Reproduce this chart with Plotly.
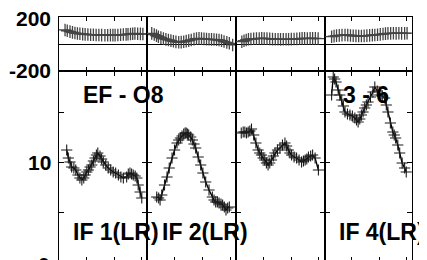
import plotly.graph_objects as go

# ---------------- data ----------------
if_labels = ["IF 1(LR)", "IF 2(LR)", "", "IF 4(LR)"]
baseline_left = "EF - O8"
baseline_right = "3 - 6"

# amplitude (lower panels)
amp_t1 = [0.28, 0.34, 0.40, 0.46, 0.54, 0.61, 0.69, 0.76, 0.83, 0.90, 0.95, 1.01, 1.07, 1.13, 1.19, 1.25, 1.31, 1.36, 1.41, 1.49, 1.55, 1.61, 1.70, 1.79, 1.88, 1.97, 2.06, 2.16, 2.25, 2.34, 2.46, 2.52, 2.58, 2.64, 2.70, 2.77, 2.83, 2.88, 2.95, 3.01]
amp_v1 = [11.2, 10.4, 10.0, 9.5, 9.4, 9.2, 8.7, 8.4, 8.2, 8.4, 8.7, 9.0, 9.2, 9.5, 9.7, 10.1, 10.4, 10.7, 10.9, 10.6, 10.3, 10.0, 9.7, 9.4, 9.2, 9.0, 8.9, 8.7, 8.5, 8.4, 8.5, 8.8, 8.9, 8.8, 8.7, 8.6, 8.4, 7.7, 7.0, 6.4]
amp_t2 = [0.35, 0.42, 0.47, 0.53, 0.63, 0.72, 0.80, 0.90, 0.99, 1.08, 1.14, 1.20, 1.26, 1.32, 1.37, 1.41, 1.46, 1.50, 1.57, 1.63, 1.69, 1.75, 1.84, 1.93, 2.01, 2.11, 2.23, 2.35, 2.41, 2.47, 2.53, 2.59, 2.66, 2.72, 2.78, 2.84, 2.90, 2.96]
amp_v2 = [6.5, 6.4, 6.2, 6.7, 7.7, 8.5, 9.4, 10.4, 11.2, 11.9, 12.2, 12.4, 12.6, 12.8, 12.9, 12.9, 12.8, 12.7, 12.5, 12.2, 11.8, 11.4, 10.5, 9.7, 8.9, 8.0, 7.2, 6.5, 6.2, 6.0, 6.0, 5.9, 5.8, 5.7, 5.5, 5.2, 5.4, 5.5]
amp_t3 = [0.19, 0.26, 0.32, 0.38, 0.44, 0.50, 0.56, 0.64, 0.72, 0.80, 0.86, 0.92, 0.98, 1.04, 1.10, 1.16, 1.22, 1.28, 1.35, 1.41, 1.50, 1.59, 1.68, 1.77, 1.83, 1.89, 1.95, 2.01, 2.10, 2.19, 2.28, 2.37, 2.44, 2.50, 2.56, 2.62, 2.70, 2.77, 2.86, 2.98]
amp_v3 = [12.9, 13.0, 13.0, 12.9, 13.0, 13.1, 13.3, 12.7, 11.9, 11.2, 10.9, 10.7, 10.4, 10.2, 9.9, 9.7, 9.9, 10.2, 10.6, 10.9, 11.2, 11.4, 11.7, 11.9, 11.6, 11.2, 10.9, 10.7, 10.5, 10.4, 10.2, 10.0, 10.1, 10.2, 10.3, 10.5, 10.6, 10.7, 10.4, 9.2]
amp_t4 = [0.26, 0.32, 0.37, 0.42, 0.50, 0.56, 0.63, 0.69, 0.75, 0.84, 0.93, 1.02, 1.11, 1.17, 1.23, 1.29, 1.35, 1.41, 1.47, 1.53, 1.59, 1.68, 1.77, 1.84, 1.93, 2.02, 2.11, 2.20, 2.26, 2.32, 2.41, 2.50, 2.55, 2.60, 2.68, 2.75, 2.84, 2.93, 2.99]
amp_v4 = [16.7, 18.5, 18.3, 18.0, 17.2, 16.7, 16.2, 15.6, 15.0, 14.8, 14.7, 14.6, 14.4, 14.2, 14.0, 14.3, 14.7, 15.0, 15.4, 15.7, 16.0, 16.5, 17.0, 17.5, 17.1, 16.7, 16.6, 16.4, 15.7, 15.0, 13.9, 13.0, 12.7, 12.4, 11.7, 10.9, 9.9, 9.4, 9.0]

# phase (upper panels)
ph_t1 = [0.22, 0.30, 0.40, 0.49, 0.58, 0.67, 0.76, 0.86, 0.95, 1.05, 1.15, 1.25, 1.35, 1.45, 1.55, 1.67, 1.77, 1.87, 1.96, 2.04, 2.14, 2.24, 2.34, 2.44, 2.51, 2.60, 2.68, 2.76, 2.86, 2.96, 3.05]
ph_v1 = [104, 98, 92, 86, 81, 78, 76, 73, 71, 70, 69, 68, 67, 67, 66, 65, 65, 66, 66, 66, 67, 68, 70, 71, 72, 74, 76, 78, 76, 75, 74]
ph_t2 = [0.17, 0.26, 0.34, 0.41, 0.50, 0.59, 0.68, 0.77, 0.86, 0.95, 1.04, 1.14, 1.23, 1.32, 1.41, 1.50, 1.59, 1.69, 1.78, 1.87, 1.96, 2.05, 2.14, 2.23, 2.32, 2.41, 2.50, 2.59, 2.68, 2.77, 2.87, 2.96, 3.08]
ph_v2 = [79, 70, 62, 54, 47, 40, 34, 30, 25, 20, 16, 13, 14, 17, 21, 25, 30, 36, 40, 42, 40, 38, 36, 35, 34, 33, 32, 30, 25, 18, 12, 5, -7]
ph_t3 = [0.21, 0.29, 0.37, 0.45, 0.54, 0.64, 0.74, 0.84, 0.93, 1.02, 1.12, 1.22, 1.32, 1.42, 1.52, 1.61, 1.71, 1.81, 1.90, 2.00, 2.10, 2.20, 2.30, 2.39, 2.48, 2.58, 2.68, 2.77, 2.87, 2.97]
ph_v3 = [17, 24, 30, 35, 37, 39, 40, 41, 42, 41, 40, 38, 36, 35, 35, 34, 35, 35, 35, 36, 37, 38, 40, 42, 42, 41, 42, 42, 42, 40]
ph_t4 = [0.26, 0.35, 0.44, 0.54, 0.64, 0.75, 0.85, 0.95, 1.05, 1.15, 1.25, 1.35, 1.45, 1.55, 1.65, 1.75, 1.84, 1.94, 2.04, 2.14, 2.23, 2.32, 2.42, 2.52, 2.62, 2.72, 2.82, 2.93, 3.02]
ph_v4 = [54, 58, 62, 64, 66, 67, 66, 63, 61, 60, 59, 59, 60, 62, 64, 66, 67, 69, 71, 74, 77, 79, 79, 80, 79, 80, 79, 79, 80]

amp_ticks = [5, 10, 15]
amp_range = [0, 19.1]
ph_range = [-200, 200]
time_range = [0, 3.2]
time_ticks = [1, 2, 3]

# ---------------- layout geometry ----------------
# Page body has an 8 px margin, so screen px = figure px + 8.
OFF = 8
W, H = 427, 260
L_s, R_s, T_s, B_s = 59, 412, 17, 262          # plot box in screen pixels
col_px = [59, 147, 236, 324.5, 412]
split_px = 71

def fx(px):
    return (px - L_s) / (R_s - L_s)

def fy(py):
    return (B_s - py) / (B_s - T_s)

FONT = "Liberation Sans, Arial, Helvetica, sans-serif"

fig = go.Figure()

amps = [(amp_t1, amp_v1), (amp_t2, amp_v2), (amp_t3, amp_v3), (amp_t4, amp_v4)]
phs = [(ph_t1, ph_v1), (ph_t2, ph_v2), (ph_t3, ph_v3), (ph_t4, ph_v4)]

layout = dict(
    width=W, height=H,
    margin=dict(l=L_s - OFF, r=W - (R_s - OFF), t=T_s - OFF, b=H - (B_s - OFF), pad=0),
    paper_bgcolor="white", plot_bgcolor="white",
    showlegend=False,
)

axis_common = dict(showgrid=False, zeroline=False, showline=True, linecolor="black",
                   linewidth=1, ticks="inside", tickcolor="black", tickwidth=1,
                   showticklabels=False, mirror="ticks")

for i in range(4):
    dom = [fx(col_px[i]), fx(col_px[i + 1])]
    xa, ya = i + 1, i + 1
    layout[f"xaxis{xa}"] = dict(axis_common, domain=dom, range=time_range, tickvals=time_ticks,
                                ticklen=5, anchor=f"y{ya}")
    layout[f"yaxis{ya}"] = dict(axis_common, domain=[0, fy(split_px)], range=amp_range,
                                tickvals=amp_ticks, ticklen=5, anchor=f"x{xa}")
    xb, yb = i + 5, i + 5
    layout[f"xaxis{xb}"] = dict(axis_common, domain=dom, range=time_range, tickvals=time_ticks,
                                ticklen=4, anchor=f"y{yb}")
    layout[f"yaxis{yb}"] = dict(axis_common, domain=[fy(split_px), 1], range=ph_range,
                                tickvals=[], zeroline=True, zerolinecolor="black",
                                zerolinewidth=1, anchor=f"x{xb}")

    t, v = amps[i]
    fig.add_trace(go.Scatter(x=t, y=v, mode="lines+markers", xaxis=f"x{xa}", yaxis=f"y{ya}",
                             line=dict(color="black", width=1.4),
                             marker=dict(symbol="cross-thin", size=8, color="#111",
                                         line=dict(width=1.1, color="#1a1a1a"))))
    t, v = phs[i]
    fig.add_trace(go.Scatter(x=t, y=v, mode="lines+markers", xaxis=f"x{xb}", yaxis=f"y{yb}",
                             line=dict(color="black", width=1.3),
                             marker=dict(symbol="cross-thin", size=9, color="#444",
                                         line=dict(width=1.3, color="#444"))))

fig.update_layout(**layout)

def label(text, px, py, size, anchor="center"):
    fig.add_annotation(text=text, x=fx(px), y=fy(py), xref="paper", yref="paper",
                       xanchor=anchor, yanchor="middle", showarrow=False,
                       font=dict(family=FONT, size=size, color="black", weight="bold"))

# y tick labels
label("200", 53, 18, 21, "right")
label("-200", 53, 71, 21, "right")
label("10", 53, 162, 21, "right")
label("0", 52, 264, 21, "right")

# panel labels
label(baseline_left, 123.5, 95, 23)
label(baseline_right, 366, 95.5, 23)
label(if_labels[0], 116, 232, 23)
label(if_labels[1], 205, 232, 23)
label(if_labels[3], 381.5, 232, 23)

fig.write_html("out.html")
